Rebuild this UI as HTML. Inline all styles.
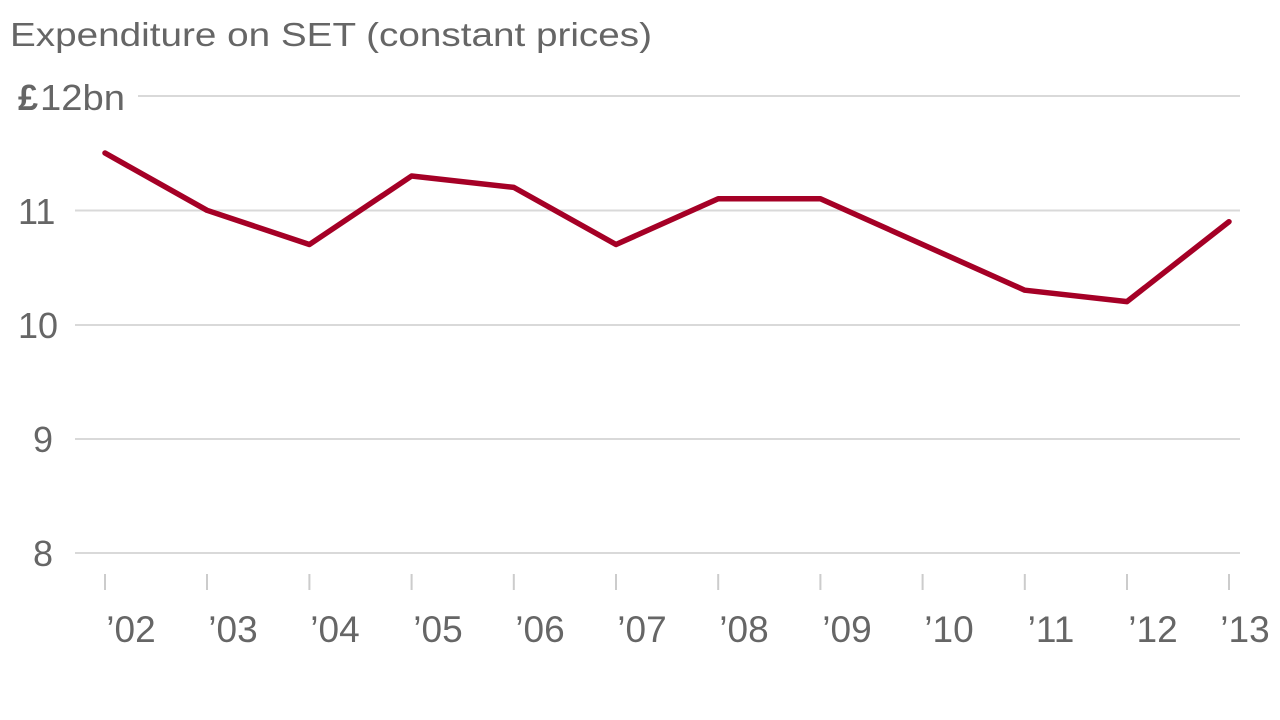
<!DOCTYPE html>
<html><head><meta charset="utf-8"><style>
html,body{margin:0;padding:0;background:#fff;width:1280px;height:720px;overflow:hidden}
svg text{font-family:"Liberation Sans",sans-serif;fill:#666}
</style></head><body>
<svg width="1280" height="720" xmlns="http://www.w3.org/2000/svg">
<text x="10" y="46" font-size="33" textLength="642" lengthAdjust="spacingAndGlyphs">Expenditure on SET (constant prices)</text>
<g stroke="#d9d9d9" stroke-width="2">
<line x1="138" y1="96" x2="1240" y2="96"/>
<line x1="75" y1="210.5" x2="1240" y2="210.5"/>
<line x1="75" y1="325" x2="1240" y2="325"/>
<line x1="75" y1="439" x2="1240" y2="439"/>
<line x1="75" y1="553" x2="1240" y2="553"/>
</g>
<g font-size="36">
<text x="18" y="110" font-weight="bold">£</text>
<text x="40" y="110" textLength="85" lengthAdjust="spacingAndGlyphs">12bn</text>
<text x="18" y="224">11</text>
<text x="18" y="338">10</text>
<text x="33" y="452">9</text>
<text x="33" y="566">8</text>
</g>
<g stroke="#ccc" stroke-width="2">
<line x1="105" y1="574" x2="105" y2="590"/><line x1="207" y1="574" x2="207" y2="590"/><line x1="309.4" y1="574" x2="309.4" y2="590"/><line x1="411.6" y1="574" x2="411.6" y2="590"/><line x1="513.8" y1="574" x2="513.8" y2="590"/><line x1="616" y1="574" x2="616" y2="590"/><line x1="718.2" y1="574" x2="718.2" y2="590"/><line x1="820.4" y1="574" x2="820.4" y2="590"/><line x1="922.6" y1="574" x2="922.6" y2="590"/><line x1="1024.8" y1="574" x2="1024.8" y2="590"/><line x1="1127" y1="574" x2="1127" y2="590"/><line x1="1229" y1="574" x2="1229" y2="590"/>
</g>
<g font-size="37" text-anchor="middle">
<text x="131" y="642">’02</text><text x="233" y="642">’03</text><text x="335" y="642">’04</text><text x="438" y="642">’05</text><text x="540" y="642">’06</text><text x="642" y="642">’07</text><text x="744" y="642">’08</text><text x="847" y="642">’09</text><text x="949" y="642">’10</text><text x="1051" y="642">’11</text><text x="1153" y="642">’12</text><text x="1245" y="642">’13</text>
</g>
<polyline fill="none" stroke="#a50026" stroke-width="5.5" stroke-linejoin="round" stroke-linecap="round"
points="105,153 207,210.3 309.4,244.5 411.6,176 513.8,187.4 616,244.5 718.2,198.8 820.4,198.8 922.6,244.5 1024.8,290.2 1127,301.6 1229,221.7"/>
</svg>
</body></html>
